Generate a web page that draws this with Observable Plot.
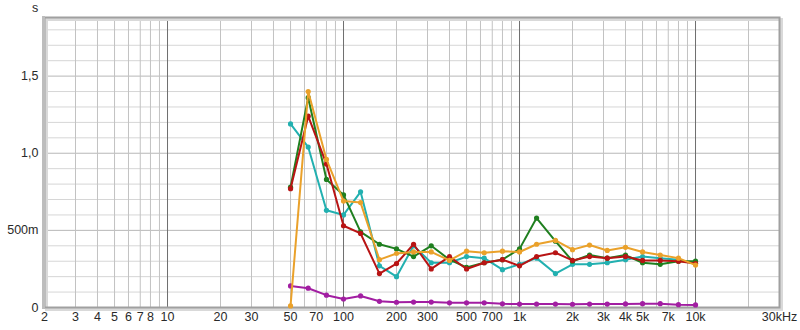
<!DOCTYPE html>
<html>
<head>
<meta charset="utf-8">
<script src="https://cdn.jsdelivr.net/npm/d3@7"></script>
<script src="https://cdn.jsdelivr.net/npm/@observablehq/plot@0.6"></script>
<style>
  html, body { margin: 0; padding: 0; background: #fff; }
  #chart { width: 800px; height: 330px; }
</style>
</head>
<body>
<div id="chart"></div>
<script>
// 1/3-octave band centre frequencies (Hz)
const freqs = [50, 63, 80, 100, 125, 160, 200, 250, 315, 400, 500, 630, 800, 1000, 1250, 1600, 2000, 2500, 3150, 4000, 5000, 6300, 8000, 10000];

// Decay time values (s)
const tealValues   = [1.19, 1.04, 0.63, 0.60, 0.75, 0.27, 0.20, 0.40, 0.29, 0.29, 0.33, 0.32, 0.245, 0.28, 0.32, 0.22, 0.28, 0.28, 0.29, 0.31, 0.33, 0.32, 0.31, 0.285];
const greenValues  = [0.78, 1.36, 0.83, 0.73, 0.49, 0.41, 0.38, 0.33, 0.40, 0.31, 0.26, 0.29, 0.31, 0.38, 0.58, 0.43, 0.30, 0.34, 0.32, 0.34, 0.29, 0.28, 0.30, 0.30];
const redValues    = [0.77, 1.24, 0.93, 0.53, 0.48, 0.22, 0.285, 0.41, 0.25, 0.33, 0.25, 0.29, 0.31, 0.27, 0.33, 0.355, 0.305, 0.33, 0.32, 0.33, 0.305, 0.305, 0.30, 0.285];
const orangeValues = [0.01, 1.40, 0.96, 0.69, 0.68, 0.31, 0.35, 0.36, 0.36, 0.305, 0.365, 0.355, 0.365, 0.36, 0.41, 0.435, 0.375, 0.405, 0.37, 0.39, 0.36, 0.34, 0.32, 0.275];
const purpleValues = [0.14, 0.125, 0.08, 0.055, 0.075, 0.04, 0.034, 0.035, 0.035, 0.03, 0.03, 0.03, 0.024, 0.022, 0.022, 0.022, 0.021, 0.022, 0.022, 0.023, 0.025, 0.025, 0.018, 0.017];

const seriesNames  = ["purple", "teal", "green", "red", "orange"];
const seriesColors = ["#a21ea2", "#22b0b0", "#1f7f1f", "#b81414", "#eaa12a"];
const seriesValues = [purpleValues, tealValues, greenValues, redValues, orangeValues];

// Axis ticks and labels
const xTickValues = [2, 3, 4, 5, 6, 7, 8, 10, 20, 30, 50, 70, 100, 200, 300, 500, 700, 1000, 2000, 3000, 4000, 5000, 7000, 10000, 30000];
const xTickLabels = ["2", "3", "4", "5", "6", "7", "8", "10", "20", "30", "50", "70", "100", "200", "300", "500", "700", "1k", "2k", "3k", "4k", "5k", "7k", "10k", "30kHz"];
const yTickValues = [0, 0.5, 1.0, 1.5];
const yTickLabels = ["0", "500m", "1,0", "1,5"];

// Grid definitions
const decadeLines = [10, 100, 1000, 10000];
const minorLines = [];
for (const d of [1, 10, 100, 1000, 10000]) {
  for (let m = 1; m <= 9; m++) {
    const v = d * m;
    if (v > 2 && v < 30000 && !decadeLines.includes(v)) minorLines.push(v);
  }
}
const yGridLines = d3.range(1, 19).map(i => i / 10).filter(v => Math.abs(v * 2 - Math.round(v * 2)) > 1e-6);
const yMajorLines = [0.5, 1.0, 1.5];

const rows = [];
seriesNames.forEach((name, si) => {
  freqs.forEach((f, i) => rows.push({ series: name, f, v: seriesValues[si][i] }));
});

const xLabels = xTickValues.map((v, i) => ({ v, label: xTickLabels[i] }));
const yLabels = yTickValues.map((v, i) => ({ v, label: yTickLabels[i] }));

const marks = [
  Plot.ruleY(yGridLines, { stroke: "#d6d6d6", strokeWidth: 1 }),
  Plot.ruleY(yMajorLines, { stroke: "#b8b8b8", strokeWidth: 1 }),
  Plot.ruleX(minorLines, { stroke: "#c2c2c2", strokeWidth: 1 }),
  Plot.ruleX(decadeLines, { stroke: "#6e6e6e", strokeWidth: 1 }),
  Plot.frame({ stroke: "#d9d9d9", strokeWidth: 3, dx: 2, dy: 2 }),
  Plot.frame({ stroke: "#a0a0a0", strokeWidth: 2 }),
  Plot.frame({ anchor: "left", stroke: "#bdbdbd", strokeWidth: 3, dx: -1 }),
  Plot.text(xLabels, { x: "v", frameAnchor: "bottom", text: "label", lineAnchor: "top", dy: 5, fontSize: 12.5, fill: "#2a2a2a" }),
  Plot.text(yLabels, { y: "v", frameAnchor: "left", text: "label", textAnchor: "end", dx: -6, fontSize: 12.5, fill: "#2a2a2a" })
];
seriesNames.forEach((name, si) => {
  const data = rows.filter(r => r.series === name);
  marks.push(Plot.line(data, { x: "f", y: "v", stroke: seriesColors[si], strokeWidth: 2 }));
  marks.push(Plot.dot(data, { x: "f", y: "v", fill: seriesColors[si], r: 2.6 }));
});

const chart = Plot.plot({
  width: 800,
  height: 330,
  marginLeft: 44,
  marginRight: 21,
  marginTop: 17,
  marginBottom: 23,
  style: { fontFamily: "'Liberation Sans', Arial, sans-serif", fontSize: "12px", background: "#fff", overflow: "visible" },
  x: { type: "log", domain: [2, 30000], axis: null },
  y: { domain: [0, 1.88], axis: null },
  marks
});

// unit label "s"
d3.select(chart).append("text")
  .attr("x", 35).attr("y", 12)
  .attr("text-anchor", "middle")
  .attr("fill", "#2a2a2a")
  .style("font-size", "12.5px")
  .text("s");

document.getElementById("chart").appendChild(chart);
</script>
</body>
</html>
